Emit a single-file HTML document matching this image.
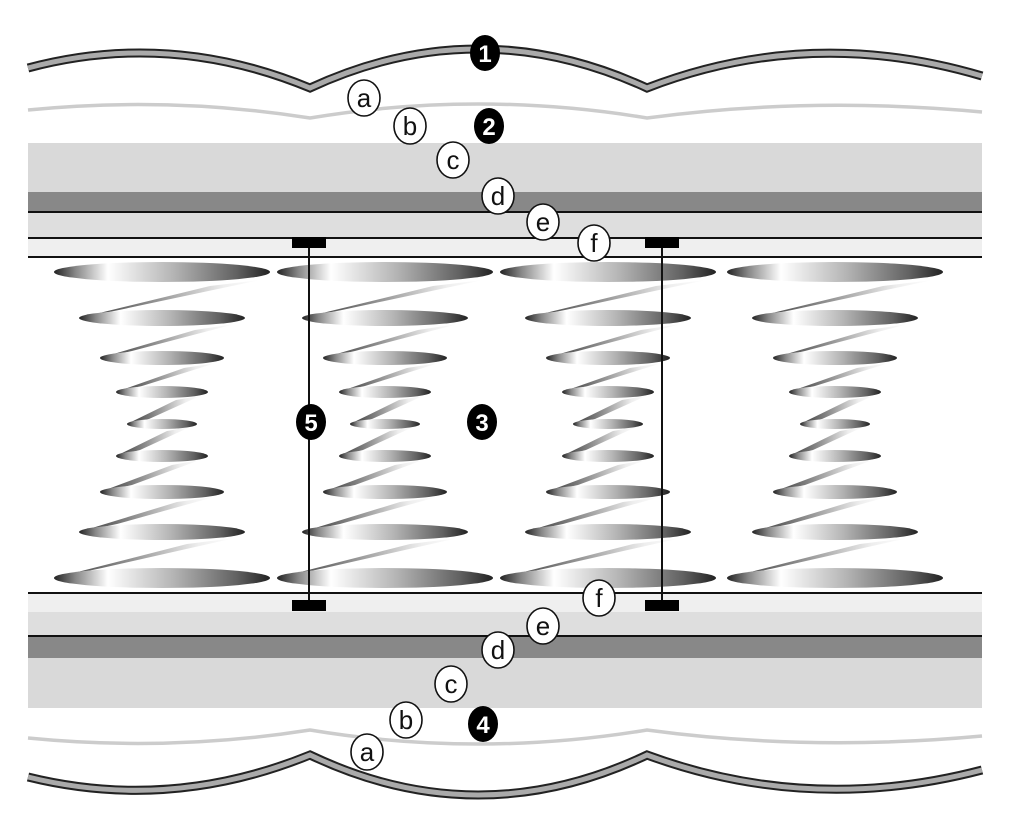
<!DOCTYPE html>
<html><head><meta charset="utf-8"><style>
html,body{margin:0;padding:0;background:#fff;}
svg{display:block;}
text{font-family:"Liberation Sans",sans-serif;}
</style></head><body>
<svg width="1012" height="828" viewBox="0 0 1012 828" xmlns="http://www.w3.org/2000/svg">
<defs>
<linearGradient id="coil" x1="0" x2="1" y1="0" y2="0">
<stop offset="0" stop-color="#222"/><stop offset="0.1" stop-color="#888"/><stop offset="0.25" stop-color="#fff"/><stop offset="0.55" stop-color="#b5b5b5"/><stop offset="0.85" stop-color="#606060"/><stop offset="1" stop-color="#222"/>
</linearGradient>
<linearGradient id="band" x1="0" x2="1" y1="0" y2="0">
<stop offset="0" stop-color="#333"/><stop offset="0.45" stop-color="#999"/><stop offset="0.8" stop-color="#eee"/><stop offset="1" stop-color="#fff"/>
</linearGradient>
<g id="spring">
<polygon points="-83,318 -43,310 98,280 48,286" fill="url(#band)"/>
<polygon points="-62,358 -30,351 73,324 33,330" fill="url(#band)"/>
<polygon points="-46,392 -20,386 54,363 22,368" fill="url(#band)"/>
<polygon points="-35,424 -13,419 38,396 14,400" fill="url(#band)"/>
<polygon points="-46,456 -22,450 28,427 5,431" fill="url(#band)"/>
<polygon points="-62,492 -30,485 38,460 10,465" fill="url(#band)"/>
<polygon points="-83,532 -45,524 52,497 15,502" fill="url(#band)"/>
<polygon points="-108,578 -60,568 73,538 25,544" fill="url(#band)"/>
<ellipse cx="0" cy="272" rx="108" ry="10" fill="url(#coil)"/>
<ellipse cx="0" cy="318" rx="83" ry="8" fill="url(#coil)"/>
<ellipse cx="0" cy="358" rx="62" ry="7" fill="url(#coil)"/>
<ellipse cx="0" cy="392" rx="46" ry="6" fill="url(#coil)"/>
<ellipse cx="0" cy="424" rx="35" ry="5" fill="url(#coil)"/>
<ellipse cx="0" cy="456" rx="46" ry="6" fill="url(#coil)"/>
<ellipse cx="0" cy="492" rx="62" ry="7" fill="url(#coil)"/>
<ellipse cx="0" cy="532" rx="83" ry="8" fill="url(#coil)"/>
<ellipse cx="0" cy="578" rx="108" ry="10" fill="url(#coil)"/>
</g>
</defs>
<rect x="28" y="143" width="954" height="49" fill="#d9d9d9"/>
<rect x="28" y="192" width="954" height="20" fill="#888"/>
<rect x="28" y="212" width="954" height="26" fill="#dedede"/>
<rect x="28" y="238" width="954" height="19" fill="#efefef"/>
<line x1="28" y1="212" x2="982" y2="212" stroke="#111" stroke-width="2"/>
<line x1="28" y1="238" x2="982" y2="238" stroke="#111" stroke-width="2"/>
<line x1="28" y1="257" x2="982" y2="257" stroke="#111" stroke-width="2"/>
<rect x="28" y="593" width="954" height="19" fill="#efefef"/>
<rect x="28" y="612" width="954" height="24" fill="#dedede"/>
<rect x="28" y="636" width="954" height="22" fill="#888"/>
<rect x="28" y="658" width="954" height="50" fill="#d9d9d9"/>
<line x1="28" y1="593" x2="982" y2="593" stroke="#111" stroke-width="2"/>
<line x1="28" y1="636" x2="982" y2="636" stroke="#111" stroke-width="2"/>
<path d="M28,110 Q170,96 310,118 Q478,90 647,118 Q810,96 982,112" fill="none" stroke="#ccc" stroke-width="3.5"/>
<path d="M28,738 Q170,752 310,730 Q478,758 647,730 Q810,752 982,736" fill="none" stroke="#ccc" stroke-width="3.5"/>
<path d="M28,68 Q170,30 310,88 Q478,10 647,88 Q810,25 982,76" fill="none" stroke="#222" stroke-width="9"/>
<path d="M28,68 Q170,30 310,88 Q478,10 647,88 Q810,25 982,76" fill="none" stroke="#aaa" stroke-width="5"/>
<path d="M28,777 Q170,812 310,755 Q478,835 647,755 Q810,815 982,770" fill="none" stroke="#222" stroke-width="9"/>
<path d="M28,777 Q170,812 310,755 Q478,835 647,755 Q810,815 982,770" fill="none" stroke="#aaa" stroke-width="5"/>
<use href="#spring" transform="translate(162,0)"/>
<use href="#spring" transform="translate(385,0)"/>
<use href="#spring" transform="translate(608,0)"/>
<use href="#spring" transform="translate(835,0)"/>
<line x1="309" y1="242" x2="309" y2="605" stroke="#111" stroke-width="2"/>
<line x1="662" y1="242" x2="662" y2="605" stroke="#111" stroke-width="2"/>
<rect x="292" y="237" width="34" height="11" fill="#000"/>
<rect x="645" y="237" width="34" height="11" fill="#000"/>
<rect x="292" y="600" width="34" height="11" fill="#000"/>
<rect x="645" y="600" width="34" height="11" fill="#000"/>
<g fill="#fff" stroke="#111" stroke-width="1.6">
<ellipse cx="364" cy="98" rx="16" ry="18"/>
<ellipse cx="410" cy="126" rx="16" ry="18"/>
<ellipse cx="453" cy="160" rx="16" ry="18"/>
<ellipse cx="498" cy="196" rx="16" ry="18"/>
<ellipse cx="543" cy="222" rx="16" ry="18"/>
<ellipse cx="594" cy="243" rx="16" ry="18"/>
<ellipse cx="599" cy="598" rx="16" ry="18"/>
<ellipse cx="543" cy="626" rx="16" ry="18"/>
<ellipse cx="498" cy="650" rx="16" ry="18"/>
<ellipse cx="451" cy="684" rx="16" ry="18"/>
<ellipse cx="406" cy="720" rx="16" ry="18"/>
<ellipse cx="367" cy="752" rx="16" ry="18"/>
</g>
<g font-size="26" text-anchor="middle" fill="#111">
<text x="364" y="107">a</text>
<text x="410" y="135">b</text>
<text x="453" y="169">c</text>
<text x="498" y="205">d</text>
<text x="543" y="231">e</text>
<text x="594" y="252">f</text>
<text x="599" y="607">f</text>
<text x="543" y="635">e</text>
<text x="498" y="659">d</text>
<text x="451" y="693">c</text>
<text x="406" y="729">b</text>
<text x="367" y="761">a</text>
</g>
<g fill="#000">
<ellipse cx="485" cy="53" rx="15" ry="18"/>
<ellipse cx="489" cy="126" rx="15" ry="18"/>
<ellipse cx="311" cy="422" rx="15" ry="18"/>
<ellipse cx="482" cy="422" rx="15" ry="18"/>
<ellipse cx="483" cy="724" rx="15" ry="18"/>
</g>
<g font-size="24" font-weight="bold" text-anchor="middle" fill="#fff">
<text x="485" y="62">1</text>
<text x="489" y="135">2</text>
<text x="311" y="431">5</text>
<text x="482" y="431">3</text>
<text x="483" y="733">4</text>
</g>
</svg>
</body></html>
